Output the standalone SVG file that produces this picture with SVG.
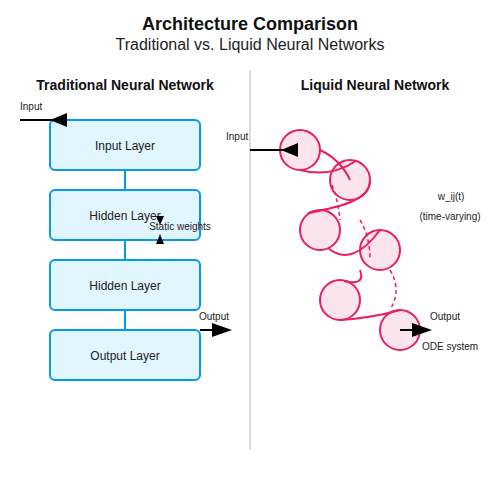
<svg xmlns="http://www.w3.org/2000/svg" width="500" height="500" viewBox="0 0 500 500">
<style>
text{font-family:"Liberation Sans",Arial,sans-serif;fill:#222}
.title{font-size:18px;font-weight:bold;fill:#111}
.sub{font-size:16px}
.head{font-size:14px;font-weight:bold;fill:#111}
.lbl{font-size:12px}
.sm{font-size:10px}
.box{fill:#e1f5fe;stroke:#039be5;stroke-width:2}
.link{stroke:#039be5;stroke-width:2}
.neu{fill:#fce4ec;stroke:#e91e63;stroke-width:2}
.curve{fill:none;stroke:#e91e63;stroke-width:2}
.dash{fill:none;stroke:#e91e63;stroke-width:1.5;stroke-dasharray:4,3}
.arr{stroke:#000;stroke-width:2}
.ah{fill:#000}
</style>
<rect width="500" height="500" fill="#fff"/>
<text class="title" x="250" y="30" text-anchor="middle">Architecture Comparison</text>
<text class="sub" x="250" y="50" text-anchor="middle">Traditional vs. Liquid Neural Networks</text>
<line x1="250" y1="70" x2="250" y2="450" stroke="#ddd" stroke-width="2"/>
<text class="head" x="125" y="90" text-anchor="middle">Traditional Neural Network</text>
<text class="head" x="375" y="90" text-anchor="middle">Liquid Neural Network</text>

<g id="trad-links">
<line class="link" x1="125" y1="170" x2="125" y2="190"/>
<line class="link" x1="125" y1="240" x2="125" y2="260"/>
<line class="link" x1="125" y1="310" x2="125" y2="330"/>
</g>
<g id="input-layer"><rect class="box" x="50" y="120" width="150" height="50" rx="5"/><text class="lbl" x="125" y="150" text-anchor="middle">Input Layer</text></g>
<g id="hidden-layer-1"><rect class="box" x="50" y="190" width="150" height="50" rx="5"/><text class="lbl" x="125" y="220" text-anchor="middle">Hidden Layer</text></g>
<g id="hidden-layer-2"><rect class="box" x="50" y="260" width="150" height="50" rx="5"/><text class="lbl" x="125" y="290" text-anchor="middle">Hidden Layer</text></g>
<g id="output-layer"><rect class="box" x="50" y="330" width="150" height="50" rx="5"/><text class="lbl" x="125" y="360" text-anchor="middle">Output Layer</text></g>

<g id="trad-annotations">
<text class="sm" x="20" y="110">Input</text>
<line class="arr" x1="20" y1="120" x2="67" y2="120"/>
<polygon class="ah" points="50,120 67,113 67,127"/>
<polygon class="ah" points="156,216 164,216 160,225"/>
<text class="sm" x="180" y="230" text-anchor="middle">Static weights</text>
<polygon class="ah" points="160,234 156,244 164,244"/>
<text class="sm" x="214" y="320" text-anchor="middle">Output</text>
<line class="arr" x1="200" y1="330" x2="214" y2="330"/>
<polygon class="ah" points="212,323 232,330 212,337"/>
</g>

<g id="n1"><circle class="neu" cx="300" cy="150" r="20"/></g>
<g id="n2"><circle class="neu" cx="350" cy="180" r="20"/></g>
<g id="n3"><circle class="neu" cx="320" cy="230" r="20"/></g>
<g id="n4"><circle class="neu" cx="380" cy="250" r="20"/></g>
<g id="n5"><circle class="neu" cx="340" cy="300" r="20"/></g>
<g id="n6"><circle class="neu" cx="400" cy="330" r="20"/></g>

<g id="liquid-connectors">
<path class="curve" d="M320,150 Q341,160 350,180"/>
<path class="curve" d="M300,170 Q330,178 356,161"/>
<path class="curve" d="M370,180 C371,200 340,207 308,213"/>
<path class="curve" d="M328,248 Q352,268 380,230"/>
<path class="curve" d="M360,270 Q366,286 344,281"/>
<path class="curve" d="M340,320 Q372,318 400,310"/>
<path class="dash" d="M332,185 Q338,200 340,220"/>
<path class="dash" d="M360,220 Q370,236 370,260"/>
<path class="dash" d="M390,270 Q402,290 390,310"/>
</g>

<g id="liquid-annotations">
<text class="sm" x="226" y="140">Input</text>
<line class="arr" x1="250" y1="150" x2="298" y2="150"/>
<polygon class="ah" points="281,150 298,143 298,157"/>
<text class="sm" x="451" y="200" text-anchor="middle">w_ij(t)</text>
<text class="sm" x="450" y="220" text-anchor="middle">(time-varying)</text>
<text class="sm" x="430" y="320">Output</text>
<line class="arr" x1="400" y1="330" x2="414" y2="330"/>
<polygon class="ah" points="412,323 432,330 412,337"/>
<text class="sm" x="422" y="350">ODE system</text>
</g>
</svg>
